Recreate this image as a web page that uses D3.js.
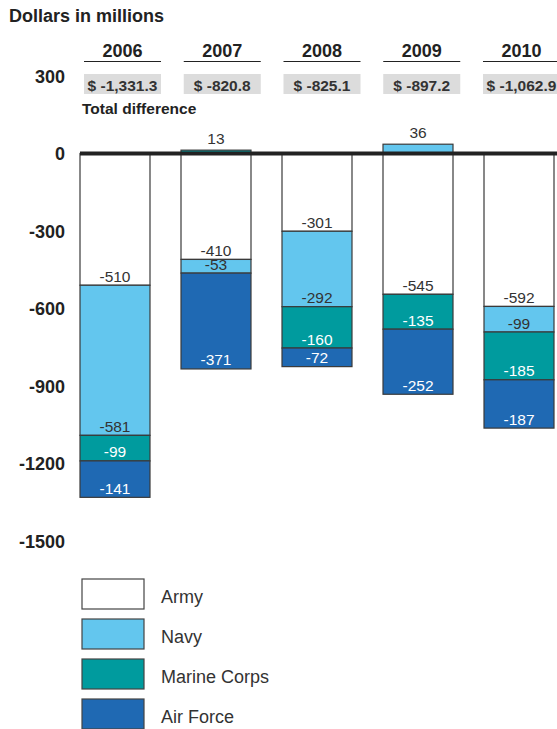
<!DOCTYPE html>
<html>
<head>
<meta charset="utf-8">
<script src="https://cdn.jsdelivr.net/npm/d3@7"></script>
<style>
  body { margin: 0; background: #fff; }
  svg { font-family: "Liberation Sans", Arial, Helvetica, sans-serif; }
</style>
</head>
<body>
<script>
const years = ["2006", "2007", "2008", "2009", "2010"];
const totals = ["$ -1,331.3", "$ -820.8", "$ -825.1", "$ -897.2", "$ -1,062.9"];
const services = ["Army", "Navy", "Marine Corps", "Air Force"];
const army = [-510, -410, -301, -545, -592];
const navy = [-581, -53, -292, 36, -99];
const marine = [-99, 13, -160, -135, -185];
const airForce = [-141, -371, -72, -252, -187];
const yTicks = [300, 0, -300, -600, -900, -1200, -1500];
const colors = ["#ffffff", "#63c6ee", "#009b9e", "#1f69b3"];
const labelColors = ["#333", "#333", "#fff", "#fff"];

const width = 557, height = 729;
const svg = d3.select('body').append('svg')
    .attr('width', width).attr('height', height);

// build rows for stacking
const rows = years.map((y, i) => ({
    year: y,
    "Army": army[i],
    "Navy": navy[i],
    "Marine Corps": marine[i],
    "Air Force": airForce[i]
}));

const stack = d3.stack().keys(services).offset(d3.stackOffsetDiverging);
const series = stack(rows);

const xScale = d3.scaleBand()
    .domain(years)
    .range([80, 554])
    .paddingInner(0.307)
    .paddingOuter(0);

// header columns are slightly tighter than the bars
const headScale = d3.scaleBand()
    .domain(years)
    .range([84, 560])
    .paddingInner(0.228)
    .paddingOuter(0);

const yScale = d3.scaleLinear()
    .domain([-1500, 300])
    .range([541, 76]);

// title
svg.append('text')
    .attr('x', 9).attr('y', 21.5)
    .attr('font-size', 18).attr('font-weight', 'bold').attr('fill', '#222')
    .text('Dollars in millions');

// y tick labels
svg.append('g').selectAll('text')
    .data(yTicks)
    .enter()
    .append('text')
    .attr('x', 65)
    .attr('y', d => yScale(d) + 6.5)
    .attr('text-anchor', 'end')
    .attr('font-size', 18).attr('font-weight', 'bold').attr('fill', '#222')
    .text(d => d);

// year headers + totals
const hw = headScale.bandwidth();
const head = svg.append('g').selectAll('g')
    .data(years)
    .enter()
    .append('g')
    .attr('transform', d => `translate(${headScale(d)},0)`);

head.append('text')
    .attr('x', hw / 2).attr('y', 56.5)
    .attr('text-anchor', 'middle')
    .attr('font-size', 18).attr('font-weight', 'bold').attr('fill', '#222')
    .text(d => d);

head.append('line')
    .attr('x1', 0).attr('x2', hw)
    .attr('y1', 61.5).attr('y2', 61.5)
    .attr('stroke', '#222').attr('stroke-width', 1.2);

head.append('rect')
    .attr('x', 0).attr('y', 74)
    .attr('width', hw).attr('height', 20)
    .attr('fill', '#dcdcdc');

head.append('text')
    .attr('x', hw / 2).attr('y', 91)
    .attr('text-anchor', 'middle')
    .attr('font-size', 15.5).attr('font-weight', 'bold').attr('fill', '#333')
    .text((d, i) => totals[i]);

svg.append('text')
    .attr('x', 82).attr('y', 114)
    .attr('font-size', 15.5).attr('font-weight', 'bold').attr('fill', '#222')
    .text('Total difference');

// stacked bars
const layers = svg.append('g').selectAll('g')
    .data(series)
    .enter()
    .append('g')
    .attr('fill', (d, i) => colors[i]);

layers.selectAll('rect')
    .data(d => d)
    .enter()
    .append('rect')
    .attr('x', d => xScale(d.data.year))
    .attr('y', d => yScale(d[1]))
    .attr('width', xScale.bandwidth())
    .attr('height', d => yScale(d[0]) - yScale(d[1]))
    .attr('stroke', '#3a3a3a')
    .attr('stroke-width', 1.2);

// value labels
series.forEach((s, si) => {
    svg.append('g').selectAll('text')
        .data(s)
        .enter()
        .append('text')
        .attr('x', d => xScale(d.data.year) + xScale.bandwidth() / 2)
        .attr('y', d => {
            const v = d.data[s.key];
            return v < 0 ? yScale(d[0]) - 3.5 : yScale(d[1]) - 6;
        })
        .attr('text-anchor', 'middle')
        .attr('font-size', 15.5)
        .attr('fill', d => d.data[s.key] < 0 ? labelColors[si] : '#333')
        .text(d => d.data[s.key]);
});

// zero line
svg.append('line')
    .attr('x1', 80).attr('x2', 557)
    .attr('y1', yScale(0)).attr('y2', yScale(0))
    .attr('stroke', '#222').attr('stroke-width', 4);

// legend
const legend = svg.append('g').selectAll('g')
    .data(services)
    .enter()
    .append('g')
    .attr('transform', (d, i) => `translate(82,${579 + i * 40})`);

legend.append('rect')
    .attr('width', 62).attr('height', 30)
    .attr('fill', (d, i) => colors[i])
    .attr('stroke', '#444').attr('stroke-width', 1.2);

legend.append('text')
    .attr('x', 79).attr('y', 23.5)
    .attr('font-size', 18).attr('fill', '#333')
    .text(d => d);
</script>
</body>
</html>
